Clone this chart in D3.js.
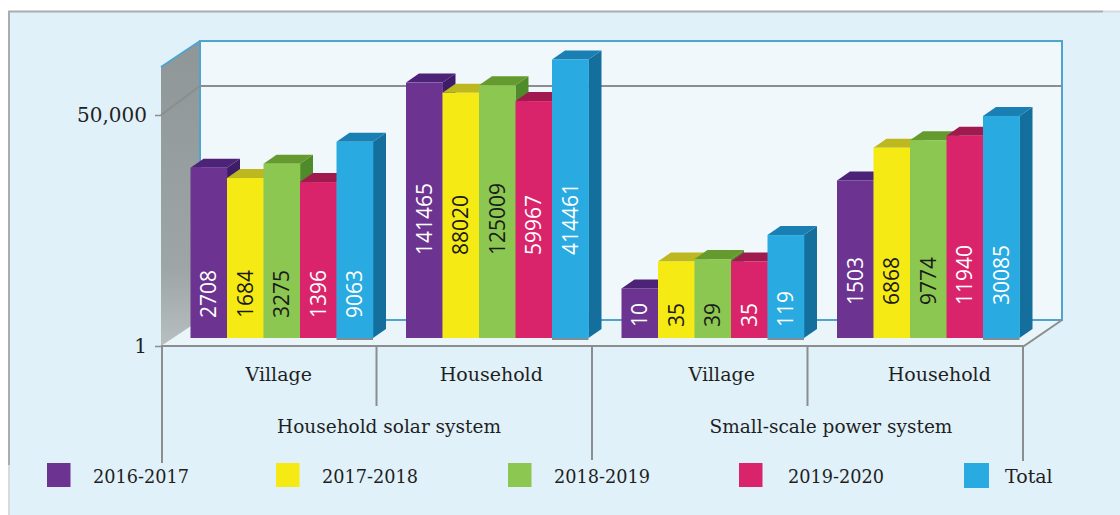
<!DOCTYPE html>
<html><head><meta charset="utf-8">
<script src="https://cdn.jsdelivr.net/npm/d3@7/dist/d3.min.js"></script>
<style>html,body{margin:0;padding:0;background:#fff}svg{display:block}</style>
</head><body><svg id="c" width="1120" height="515"></svg>
<script>
const subCategories = ["Village","Household","Village","Household"];
const groupNames = ["Household solar system","Small-scale power system"];
const seriesNames = ["2016-2017","2017-2018","2018-2019","2019-2020","Total"];
const v2016 = [2708,141465,10,1503];
const v2017 = [1684,88020,35,6868];
const v2018 = [3275,125009,39,9774];
const v2019 = [1396,59967,35,11940];
const vTotal = [9063,414461,119,30085];
const tickValues = [1,50000];
const axisTop = 400000;

const seriesValues = [v2016,v2017,v2018,v2019,vTotal];
const faces = [
 {front:"#6c3391",top:"#4d2378",side:"#3e1d68",label:"#fff"},
 {front:"#f5ea14",top:"#bdb81f",side:"#9c9a1c",label:"#1a1a1a"},
 {front:"#8cc751",top:"#649a2e",side:"#4f8a2b",label:"#1a1a1a"},
 {front:"#d9246b",top:"#a01a4f",side:"#8c1644",label:"#fff"},
 {front:"#29abe2",top:"#1a80b3",side:"#146f9c",label:"#fff"}];
const labelLift = [20,83,11,33];
const catShift = [9,6,21,23];
const legendSwatch = [47,276,508,739,964];
const legendText = [93,322,554,788,1005];
const serif = "'DejaVu Serif',serif";
const ink = "#1f1f1f";

const svg = d3.select("#c");
const defs = svg.append("defs");
const g = defs.append("linearGradient").attr("id","wall").attr("x1",0).attr("y1",0).attr("x2",0).attr("y2",1);
g.append("stop").attr("offset","0").attr("stop-color","#8f9698");
g.append("stop").attr("offset","0.75").attr("stop-color","#9ea5a7");
g.append("stop").attr("offset","1").attr("stop-color","#b7bfc1");

// panel
svg.append("rect").attr("x",9).attr("y",11).attr("width",1111).attr("height",504).attr("fill","#e0f1f9");
svg.append("path").attr("d","M9,465V11.5H1103").attr("fill","none").attr("stroke","#a9adae").attr("stroke-width",2);
svg.append("path").attr("d","M9,515V465M1103,11.5H1120").attr("fill","none").attr("stroke","#d3dcdf").attr("stroke-width",2);

// scales: front edge, bar plane, back wall
const yFront = d3.scaleLog().domain([1,50000]).range([346,115]);
const yBar = d3.scaleLog().domain([1,50000]).range([338,105]);
const yBack = d3.scaleLog().domain([1,50000]).range([320,86]);
const x0 = d3.scaleBand().domain(d3.range(4)).range([162,1024]);
const x1 = d3.scaleBand().domain(d3.range(5)).range([28.5,211]);
const wallL=200, wallR=1062, frontL=161, frontR=1024, dx=13, dy=9;

// back wall
const wallTop = yBack(axisTop);
svg.append("rect").attr("x",wallL).attr("y",wallTop).attr("width",wallR-wallL).attr("height",yBack(1)-wallTop)
  .attr("fill","#f1f8fc").attr("stroke","#4fa3cf").attr("stroke-width",2);
// floor
svg.append("path").attr("d",`M${frontL},${yFront(1)}L${wallL},${yBack(1)}H${wallR}L${frontR},${yFront(1)}Z`).attr("fill","#eaf5fa");
svg.append("line").attr("x1",wallL).attr("x2",wallR).attr("y1",yBack(1)).attr("y2",yBack(1)).attr("stroke","#4fa3cf").attr("stroke-width",2);
// left wall
const wallTopFront = wallTop + (yFront(1)-yBack(1));
svg.append("path").attr("d",`M${frontL},${wallTopFront}L${wallL},${wallTop}V${yBack(1)}L${frontL},${yFront(1)}Z`).attr("fill","url(#wall)");
svg.append("line").attr("x1",frontL).attr("y1",wallTopFront).attr("x2",wallL).attr("y2",wallTop).attr("stroke","#4fa3cf").attr("stroke-width",2);
svg.append("line").attr("x1",wallL).attr("y1",wallTop).attr("x2",wallL).attr("y2",yBack(1)).attr("stroke","#4fa3cf").attr("stroke-width",2);
// gridline
svg.append("path").attr("d",`M${frontL},${yFront(50000)}L${wallL},${yBack(50000)}H${wallR}`).attr("fill","none").attr("stroke","#8b8d8e").attr("stroke-width",2);
// front floor edges
svg.append("path").attr("d",`M${frontL},${yFront(1)}H${frontR}L${wallR},${yBack(1)}`).attr("fill","none").attr("stroke","#8b8d8e").attr("stroke-width",2);

// axis
const axis = d3.axisLeft(yFront).tickValues(tickValues).tickSize(6).tickPadding(8).tickFormat(d3.format(","));
const ax = svg.append("g").attr("transform",`translate(${frontL},0)`).call(axis);
ax.select(".domain").remove();
ax.selectAll("line").attr("stroke","#8b8d8e").attr("stroke-width",1.5);
ax.selectAll("text").attr("font-family",serif).attr("font-size",20).attr("fill",ink);

// separators
const seps = [[162,463],[376.5,406],[592,460],[807.5,406],[1023,461]];
svg.append("g").selectAll("line").data(seps).join("line")
  .attr("x1",d=>d[0]).attr("x2",d=>d[0]).attr("y1",yFront(1)).attr("y2",d=>d[1])
  .attr("stroke","#8b8d8e").attr("stroke-width",2);

// bars
const bars = svg.append("g");
subCategories.forEach((c,gi)=>{
  seriesValues.forEach((vals,si)=>{
    const v = vals[gi], x = x0(gi)+x1(si), w = x1.bandwidth(), yt = yBar(v), yb = yBar(1), f = faces[si];
    const b = bars.append("g");
    b.append("path").attr("d",`M${x+w},${yt}L${x+w+dx},${yt-dy}V${yb-dy}L${x+w},${yb}Z`).attr("fill",f.side);
    b.append("path").attr("d",`M${x},${yt}L${x+dx},${yt-dy}H${x+w+dx}L${x+w},${yt}Z`).attr("fill",f.top);
    b.append("rect").attr("x",x).attr("y",yt).attr("width",w+0.3).attr("height",yb-yt).attr("fill",f.front);
    if (si === 4) b.append("line").attr("x1",x).attr("x2",x+w).attr("y1",yb+1).attr("y2",yb+1).attr("stroke","#7f8f98").attr("stroke-width",2);
  });
});
// value labels on top of all bars
subCategories.forEach((c,gi)=>{
  seriesValues.forEach((vals,si)=>{
    const x = x0(gi)+x1(si)+x1.bandwidth()/2, y = yBar(1)-labelLift[gi];
    bars.append("text").attr("transform",`translate(${x+7.5},${y}) rotate(-90)`)
      .attr("font-family","'Open Sans',sans-serif").attr("font-size",21)
      .attr("fill",faces[si].label).text(vals[gi]);
  });
});

// category labels
svg.append("g").selectAll("text").data(subCategories).join("text")
  .attr("x",(d,i)=>x0(i)+x0.bandwidth()/2+catShift[i]).attr("y",381).attr("text-anchor","middle")
  .attr("font-family",serif).attr("font-size",19).attr("fill",ink).text(d=>d);
svg.append("g").selectAll("text").data(groupNames).join("text")
  .attr("x",(d,i)=>[389,831][i]).attr("y",433).attr("text-anchor","middle")
  .attr("font-family",serif).attr("font-size",18.5).attr("fill",ink).text(d=>d);

// legend
const lg = svg.append("g");
seriesNames.forEach((n,i)=>{
  lg.append("rect").attr("x",legendSwatch[i]).attr("y",463).attr("width",i==4?25:23.5).attr("height",i==4?25:24).attr("fill",faces[i].front);
  lg.append("text").attr("x",legendText[i]).attr("y",483).attr("font-family",serif).attr("font-size",i==4?19:17.7).attr("fill",ink).text(n);
});
</script></body></html>
